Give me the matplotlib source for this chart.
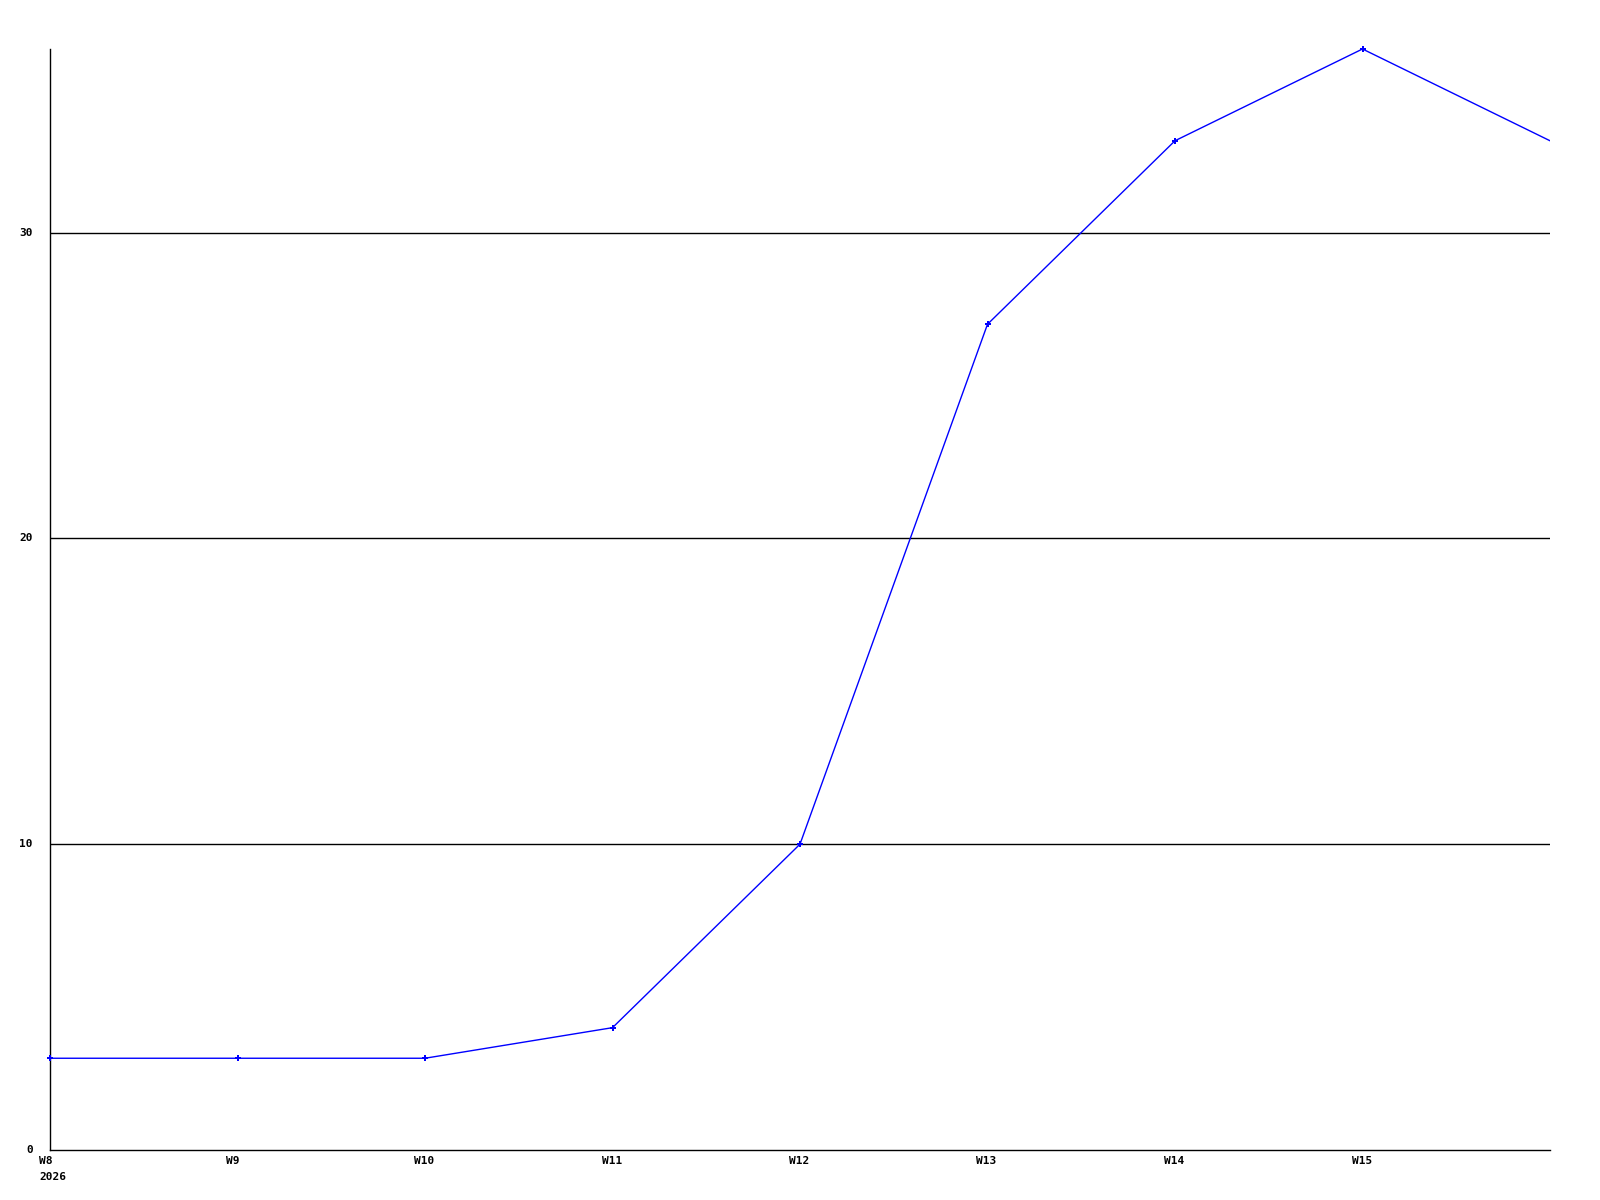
import matplotlib.pyplot as plt
from matplotlib import transforms

# weekly values, W8 2026 .. W16 (last point has no label)
weeks = ['W8', 'W9', 'W10', 'W11', 'W12', 'W13', 'W14', 'W15', '']
values = [3, 3, 3, 4, 10, 27, 33, 36, 33]
yticks = [0, 10, 20, 30]
year_label = '2026'

fig = plt.figure(figsize=(16, 12), dpi=100)
# axes box in pixels: left 50, right 1550, top 49, bottom 1150
ax = fig.add_axes([50 / 1600, 50 / 1200, 1500 / 1600, 1101 / 1200])

x = list(range(len(values)))
ax.plot(x, values, color='#0000ff', linewidth=1, zorder=3)
ax.plot(x[:-1], values[:-1], linestyle='none', color='#0000ff', marker='P',
        markersize=5, markeredgewidth=0, zorder=4, clip_on=False)

ax.set_xlim(0, len(values) - 1)
ax.set_ylim(0, 36)

for v in yticks[1:]:
    ax.axhline(v, color='black', linewidth=1, zorder=1)

for s in ['top', 'right']:
    ax.spines[s].set_visible(False)
for s in ['left', 'bottom']:
    ax.spines[s].set_linewidth(1)
    ax.spines[s].set_color('black')

ax.set_xticks([])
ax.set_yticks([])

font = dict(family='DejaVu Sans Mono', fontsize=8, fontweight='bold', color='black')

# y labels, right aligned a bit left of the axis
ytr = transforms.offset_copy(ax.transData, fig=fig, x=-17, y=0, units='dots')
for v in yticks:
    ax.text(0, v, str(v), transform=ytr, ha='right', va='center', **font)

# x labels, left aligned slightly before each tick
xtr = transforms.offset_copy(ax.transData, fig=fig, x=-11, y=-11, units='dots')
for i, w in enumerate(weeks):
    if w:
        ax.text(i, 0, w, transform=xtr, ha='left', va='center', **font)
ytr2 = transforms.offset_copy(ax.transData, fig=fig, x=-11, y=-27, units='dots')
ax.text(0, 0, year_label, transform=ytr2, ha='left', va='center', **font)

fig.savefig('out.png', dpi=100, facecolor='white')
